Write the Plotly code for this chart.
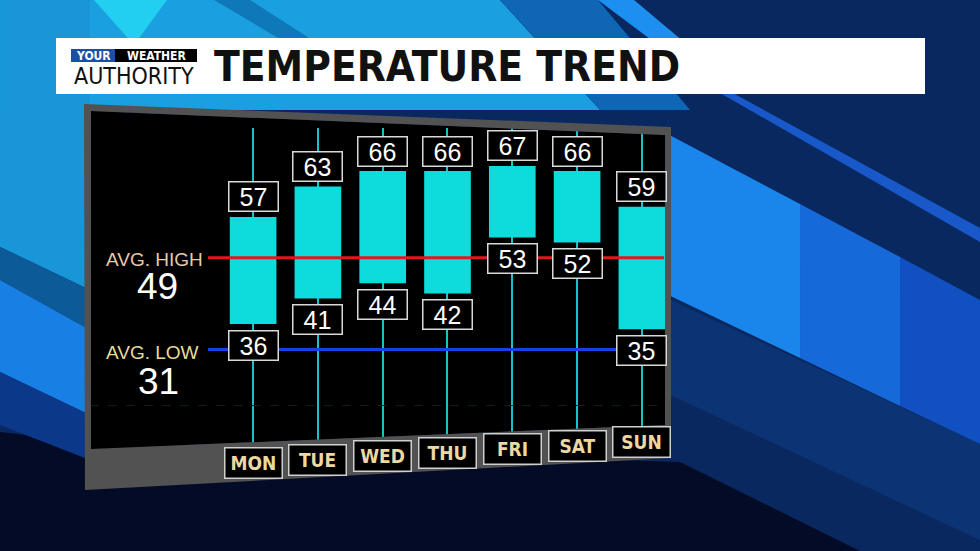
import plotly.graph_objects as go

# ---------------- data ----------------
days = ["MON", "TUE", "WED", "THU", "FRI", "SAT", "SUN"]
highs = [57, 63, 66, 66, 67, 66, 59]
lows = [36, 41, 44, 42, 53, 52, 35]
avg_high = 49
avg_low = 31
title_text = "TEMPERATURE TREND"

# ---------------- geometry helpers (pixel -> paper) ----------------
W, H = 980, 551
PL, PR, PT, PB = 90, 668, 128, 447


def px(x):
    return (x - PL) / (PR - PL)


def py(y):
    return (PB - y) / (PB - PT)


def path(*polys):
    out = []
    for pts in polys:
        out.append("M " + " L ".join(f"{px(x):.4f},{py(y):.4f}" for x, y in pts) + " Z")
    return " ".join(out)


def poly(pts, color, layer="below"):
    return dict(type="path", xref="paper", yref="paper", path=path(pts),
                fillcolor=color, line=dict(width=0), layer=layer)


def rect(x0, y0, x1, y1, color, layer="above"):
    return dict(type="rect", xref="paper", yref="paper", x0=px(x0), x1=px(x1),
                y0=py(y1), y1=py(y0), fillcolor=color, line=dict(width=0), layer=layer)


shapes = []
# ---- background (decorative diagonal bands) ----
shapes += [
    poly([(0, 0), (980, 0), (980, 551), (860, 551), (680, 462), (90, 442), (0, 432)], "#0a2860"),
    poly([(0, 0), (500, 0), (600, 110), (0, 110)], "#1aa0e0"),
    poly([(500, 0), (598, 0), (690, 110), (600, 110)], "#0e66b4"),
    poly([(598, 0), (634, 0), (684, 42), (654, 42)], "#1c8ff0"),
    poly([(94, 0), (167, 0), (134, 45)], "#22cff0"),
    poly([(214, 0), (250, 0), (320, 45), (290, 45)], "#0f78b8"),
    poly([(0, 0), (90, 0), (90, 290), (0, 247)], "#1896d8"),
    poly([(0, 247), (90, 290), (90, 330), (0, 280)], "#0d5a98"),
    poly([(0, 280), (90, 330), (90, 415), (0, 372)], "#1880e4"),
    poly([(0, 372), (90, 415), (90, 460), (0, 425)], "#0b3888"),
    poly([(720, 86), (980, 228), (980, 242), (720, 93)], "#1858c8"),
    poly([(660, 295), (980, 444), (980, 540), (660, 390)], "#0c3474"),
    poly([(660, 130), (800, 204), (800, 358), (660, 291)], "#1a86ec"),
    poly([(800, 204), (900, 257), (900, 406), (800, 358)], "#1669d8"),
    poly([(900, 257), (980, 300), (980, 444), (900, 406)], "#1050c0"),
]
# ---- black chart panel (perspective) ----
inner = [(91, 111), (665, 135), (665, 425), (91, 449)]
outer = [(84, 104), (671, 127), (671, 458), (85, 490)]
shapes.append(poly(inner, "#000000"))
# ---- title bar + logo boxes ----
shapes.append(rect(56, 38, 925, 94, "#ffffff"))
shapes.append(rect(71, 49, 115, 62, "#1b4fa6"))
shapes.append(rect(115, 49, 197, 62, "#000000"))
# ---- gray frame (covers everything outside black panel) ----
shapes.append(dict(type="path", xref="paper", yref="paper", path=path(outer, inner),
                   fillrule="evenodd", fillcolor="#525252", line=dict(width=0), layer="above"))
# ---- average lines ----
shapes.append(dict(type="line", xref="paper", yref="y", x0=px(208), x1=px(664),
                   y0=avg_high, y1=avg_high, line=dict(color="#e3161b", width=3), layer="above"))
shapes.append(dict(type="line", xref="paper", yref="y", x0=px(208), x1=px(664),
                   y0=avg_low, y1=avg_low, line=dict(color="#1443e0", width=3), layer="above"))

fig = go.Figure()
fig.add_trace(go.Bar(
    x=days, y=[h - l for h, l in zip(highs, lows)], base=lows, width=0.72,
    marker=dict(color="#0edcdc", line=dict(width=0)), hoverinfo="skip",
))

NUMF = "Liberation Sans, Arial, sans-serif"
COND = "DejaVu Sans Condensed, sans-serif"


def A(**kw):
    kw.setdefault("showarrow", False)
    kw.setdefault("xanchor", "center")
    kw.setdefault("yanchor", "middle")
    return kw


ann = []
for i, d in enumerate(days):
    box = dict(bgcolor="#000000", bordercolor="#d9d9d9", borderwidth=1.5, borderpad=1,
               width=46, height=26, font=dict(family=NUMF, size=25, color="#ffffff"))
    ann.append(A(x=d, y=highs[i], yshift=20, text=str(highs[i]), **box))
    ann.append(A(x=d, y=lows[i], yshift=-21, text=str(lows[i]), **box))
    ann.append(A(x=d, xref="x", yref="paper", y=py(463 - 3.5 * i), text=f"<b>{d}</b>",
                 font=dict(family=COND, size=19, color="#ecd8a0"),
                 bgcolor="#000000", bordercolor="#cfcfcf", borderwidth=1.5, borderpad=1,
                 width=54, height=27))

ann += [
    A(xref="paper", x=px(205), xanchor="right", y=avg_high, yshift=-2, text="AVG. HIGH",
      font=dict(family=NUMF, size=19, color="#e9c9a8")),
    A(xref="paper", x=px(157), y=avg_high, yshift=-29, text=str(avg_high),
      font=dict(family=NUMF, size=37, color="#ffffff")),
    A(xref="paper", x=px(201), xanchor="right", y=avg_low, yshift=-3, text="AVG. LOW",
      font=dict(family=NUMF, size=19, color="#e6dc9a")),
    A(xref="paper", x=px(158), y=avg_low, yshift=-32, text=str(avg_low),
      font=dict(family=NUMF, size=37, color="#ffffff")),
    # logo
    A(xref="paper", yref="paper", x=px(93), y=py(55.5), text="<b>YOUR</b>",
      font=dict(family=COND, size=12, color="#ffffff")),
    A(xref="paper", yref="paper", x=px(156), y=py(55.5), text="<b>WEATHER</b>",
      font=dict(family=COND, size=12, color="#ffffff")),
    A(xref="paper", yref="paper", x=px(134), y=py(76), text="AUTHORITY",
      font=dict(family=COND, size=23, color="#111111")),
    A(xref="paper", yref="paper", x=px(212), xanchor="left", y=py(66), text=f"<b>{title_text}</b>",
      font=dict(family=COND, size=42, color="#111111")),
]

fig.update_layout(
    width=W, height=H, margin=dict(l=PL, r=W - PR, t=PT, b=H - PB, pad=0),
    paper_bgcolor="#040b26", plot_bgcolor="rgba(0,0,0,0)", showlegend=False,
    shapes=shapes, annotations=ann,
    xaxis=dict(type="category", range=[-2.517, 6.403], showgrid=True, gridcolor="#14c4c8",
               gridwidth=2, showticklabels=False, ticks="", zeroline=False, showline=False),
    yaxis=dict(range=[11.9, 74.45], showgrid=True, tickvals=[20], gridcolor="#0a201f",
               griddash="dash", showticklabels=False, ticks="", zeroline=False, showline=False),
)

fig.write_html("out.html", config={"displayModeBar": False},
               post_script="document.body.style.margin='0';document.body.style.padding='0';")
